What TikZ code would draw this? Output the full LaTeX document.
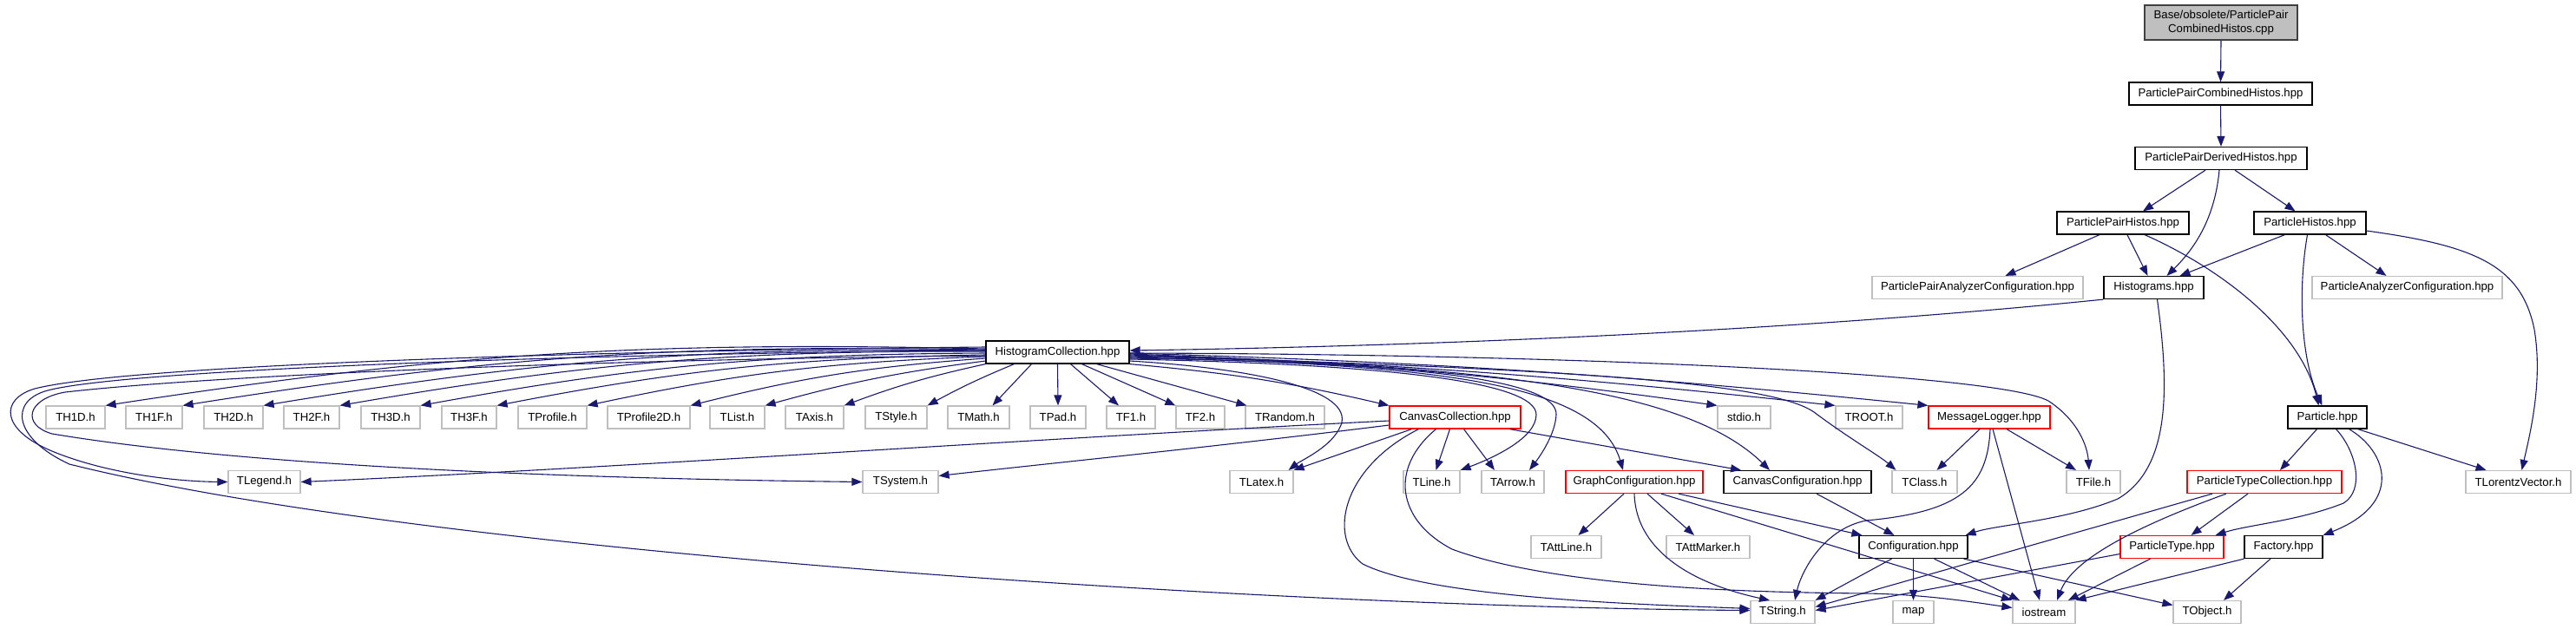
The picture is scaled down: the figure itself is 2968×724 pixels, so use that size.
\documentclass[tikz,border=0pt]{standalone}
\usepackage{fontspec}
\setmainfont{Liberation Sans}
\usetikzlibrary{arrows.meta}
\definecolor{edgeblue}{RGB}{25,25,112}
\definecolor{extgray}{RGB}{191,191,191}
\definecolor{basefill}{RGB}{191,191,191}
\definecolor{baseborder}{RGB}{64,64,64}
\definecolor{incred}{RGB}{255,0,0}
\newcommand{\nodefont}{\fontsize{13.2}{15.4}\selectfont}
\tikzset{
  nd/.style={rectangle, line width=1.2pt, minimum height=26pt, inner sep=0pt, font=\nodefont, text=black},
  ext/.style={nd, draw=extgray},
  doc/.style={nd, draw=black},
  incbox/.style={nd, draw=incred},
  basebox/.style={nd, draw=baseborder, fill=basefill, minimum height=40pt, align=center},
  dep/.style={draw=edgeblue, line width=1.1pt, -{Triangle[length=12pt,width=9pt]}}
}
\begin{document}
\begin{tikzpicture}[x=1pt,y=-1pt]
\useasboundingbox (0,0) rectangle (2968,724);
% rows 1-6
\node[basebox, minimum width=176pt] (base) at (2559,26) {Base/obsolete/ParticlePair\\CombinedHistos.cpp};
\node[doc, minimum width=211pt] (ppcomb) at (2558.5,108) {ParticlePairCombinedHistos.hpp};
\node[doc, minimum width=198pt] (ppder) at (2559,182.5) {ParticlePairDerivedHistos.hpp};
\node[doc, minimum width=152pt] (pphist) at (2446,257) {ParticlePairHistos.hpp};
\node[doc, minimum width=129pt] (phist) at (2661.5,257) {ParticleHistos.hpp};
\node[ext, minimum width=243pt] (ppac) at (2278.5,331.5) {ParticlePairAnalyzerConfiguration.hpp};
\node[doc, minimum width=115pt] (hist) at (2481.5,331.5) {Histograms.hpp};
\node[ext, minimum width=219pt] (pac) at (2773.5,331.5) {ParticleAnalyzerConfiguration.hpp};
\node[doc, minimum width=165pt] (hc) at (1218.5,406) {HistogramCollection.hpp};
% row 7
\node[ext, minimum width=68pt] (th1d) at (87,481) {TH1D.h};
\node[ext, minimum width=65pt] (th1f) at (177.5,481) {TH1F.h};
\node[ext, minimum width=68pt] (th2d) at (269,481) {TH2D.h};
\node[ext, minimum width=64pt] (th2f) at (359,481) {TH2F.h};
\node[ext, minimum width=68pt] (th3d) at (450,481) {TH3D.h};
\node[ext, minimum width=63pt] (th3f) at (540.5,481) {TH3F.h};
\node[ext, minimum width=79pt] (tprof) at (636.5,481) {TProfile.h};
\node[ext, minimum width=95pt] (tprof2) at (747.5,481) {TProfile2D.h};
\node[ext, minimum width=63pt] (tlist) at (849.5,481) {TList.h};
\node[ext, minimum width=67pt] (taxis) at (938.5,481) {TAxis.h};
\node[ext, minimum width=71pt] (tstyle) at (1032.5,481) {TStyle.h};
\node[ext, minimum width=71pt] (tmath) at (1127.5,481) {TMath.h};
\node[ext, minimum width=64pt] (tpad) at (1219,481) {TPad.h};
\node[ext, minimum width=56pt] (tf1) at (1303,481) {TF1.h};
\node[ext, minimum width=56pt] (tf2) at (1383,481) {TF2.h};
\node[ext, minimum width=91pt] (trandom) at (1480.5,481) {TRandom.h};
\node[incbox, minimum width=151pt] (cc) at (1676.5,481) {CanvasCollection.hpp};
\node[ext, minimum width=61pt] (stdio) at (2009.5,481) {stdio.h};
\node[ext, minimum width=77pt] (troot) at (2153.5,481) {TROOT.h};
\node[incbox, minimum width=140pt] (msg) at (2292,481) {MessageLogger.hpp};
\node[doc, minimum width=91pt] (particle) at (2681.5,481) {Particle.hpp};
% row 8
\node[ext, minimum width=83pt] (tlegend) at (304.5,555.5) {TLegend.h};
\node[ext, minimum width=87pt] (tsystem) at (1037.5,555.5) {TSystem.h};
\node[ext, minimum width=73pt] (tlatex) at (1453.5,555.5) {TLatex.h};
\node[ext, minimum width=65pt] (tline) at (1649.5,555.5) {TLine.h};
\node[ext, minimum width=72pt] (tarrow) at (1743,555.5) {TArrow.h};
\node[incbox, minimum width=158pt] (gc) at (1883,555.5) {GraphConfiguration.hpp};
\node[doc, minimum width=170pt] (cconf) at (2071,555.5) {CanvasConfiguration.hpp};
\node[ext, minimum width=75pt] (tclass) at (2217.5,555.5) {TClass.h};
\node[ext, minimum width=62pt] (tfile) at (2412,555.5) {TFile.h};
\node[incbox, minimum width=178pt] (ptc) at (2609,555.5) {ParticleTypeCollection.hpp};
\node[ext, minimum width=121pt] (tlv) at (2901.5,555.5) {TLorentzVector.h};
% row 9
\node[ext, minimum width=81pt] (tattline) at (1804.5,630.5) {TAttLine.h};
\node[ext, minimum width=96pt] (tattmarker) at (1968,630.5) {TAttMarker.h};
\node[doc, minimum width=125pt] (conf) at (2204.5,630.5) {Configuration.hpp};
\node[incbox, minimum width=119pt] (ptype) at (2502.5,630.5) {ParticleType.hpp};
\node[doc, minimum width=90pt] (factory) at (2631,630.5) {Factory.hpp};
% row 10
\node[ext, minimum width=74pt] (tstring) at (2054,705.5) {TString.h};
\node[ext, minimum width=47pt] (map) at (2204.5,705.5) {map};
\node[ext, minimum width=72pt] (iostream) at (2355,705.5) {iostream};
\node[ext, minimum width=78pt] (tobject) at (2543,705.5) {TObject.h};

% ---- edges: top part
\draw[dep] (base.south) -- (ppcomb.north);
\draw[dep] (ppcomb.south) -- (ppder.north);
\draw[dep] ([xshift=-18]ppder.south) -- ([xshift=23]pphist.north);
\draw[dep] ([xshift=16]ppder.south) -- ([xshift=-17]phist.north);
\draw[dep] ([xshift=-2]ppder.south) .. controls (2552,250) and (2530,285) .. ([xshift=15]hist.north);
\draw[dep] ([xshift=-27]pphist.south) -- ([xshift=32]ppac.north);
\draw[dep] ([xshift=5]pphist.south) -- ([xshift=-7]hist.north);
\draw[dep] ([xshift=25]pphist.south) .. controls (2560,310) and (2650,380) .. ([xshift=-10]particle.north);
\draw[dep] ([xshift=-29]phist.south) -- ([xshift=30]hist.north);
\draw[dep] ([xshift=18]phist.south) -- ([xshift=-24]pac.north);
\draw[dep] ([xshift=-3]phist.south) .. controls (2648,330) and (2650,410) .. ([xshift=-6]particle.north);
\draw[dep] ([yshift=-9]phist.east) .. controls (2850,283) and (2905,305) .. (2920,380) .. controls (2930,440) and (2915,500) .. ([xshift=4]tlv.north);
\draw[dep] (hist.south west) .. controls (2100,378) and (1700,398) .. ([yshift=2]hc.east);
\draw[dep] ([xshift=4]hist.south) .. controls (2500,450) and (2500,540) .. (2440,575) .. controls (2380,600) and (2300,605) .. ([xshift=-3]conf.north east);

% ---- HistogramCollection fan to the left
\draw[dep] ([yshift=4]hc.west) to[bend right=5] (th1d.north east);
\draw[dep] ([yshift=3]hc.west) to[bend right=5] (th1f.north east);
\draw[dep] ([yshift=2]hc.west) to[bend right=5] (th2d.north east);
\draw[dep] ([yshift=1]hc.west) to[bend right=5] (th2f.north east);
\draw[dep] ([yshift=-1]hc.west) to[bend right=5] (th3d.north east);
\draw[dep] ([yshift=-3]hc.west) to[bend right=5] (th3f.north east);
\draw[dep] ([yshift=-5]hc.west) to[bend right=5] (tprof.north east);
\draw[dep] ([yshift=-7]hc.west) to[bend right=5] (tprof2.north east);
\draw[dep] ([yshift=-10]hc.west) to[bend right=4] (tlist.north east);
\draw[dep] (hc.south west) to[bend right=4] (taxis.north east);
\draw[dep] ([xshift=-50]hc.south) to[bend right=3] (tstyle.north east);
\draw[dep] ([xshift=-30]hc.south) -- ([xshift=16]tmath.north);
\draw[dep] (hc.south) -- (tpad.north);
\draw[dep] ([xshift=15]hc.south) -- ([xshift=-14]tf1.north);
\draw[dep] ([xshift=28]hc.south) -- (tf2.north west);
\draw[dep] ([xshift=45]hc.south) -- ([xshift=2]trandom.north west);
% loops on the far left
\draw[dep] ([yshift=-4]hc.west) .. controls (700,414) and (250,432) .. (75,452) .. controls (30,460) and (25,490) .. (60,500) .. controls (300,540) and (700,552) .. (tsystem.west);
\draw[dep] ([yshift=6]hc.west) .. controls (700,404) and (150,420) .. (40,448) .. controls (0,460) and (0,495) .. (60,520) .. controls (120,545) and (200,555) .. (tlegend.west);
\draw[dep] ([yshift=2]hc.west) .. controls (700,407) and (150,425) .. (55,450) .. controls (10,462) and (15,505) .. (80,535) .. controls (500,640) and (1500,700) .. ([yshift=2]tstring.west);

% ---- HistogramCollection to the right
\draw[dep] (hc.south east) to[bend left=4] (cc.north west);
\draw[dep] ([yshift=-3]hc.east) to[bend left=3] (stdio.north west);
\draw[dep] ([yshift=-2]hc.east) to[bend left=2] (troot.north west);
\draw[dep] ([yshift=-1]hc.east) to[bend left=2] (msg.north west);
\draw[dep] ([yshift=-10]hc.east) .. controls (1450,425) and (1560,450) .. (1545,490) .. controls (1535,515) and (1500,530) .. ([xshift=-6]tlatex.north east);
\draw[dep] ([yshift=-8]hc.east) .. controls (1600,420) and (1770,440) .. (1770,478) .. controls (1770,505) and (1720,528) .. (tline.north east);
\draw[dep] ([yshift=-7]hc.east) .. controls (1650,418) and (1795,440) .. (1793,478) .. controls (1792,500) and (1775,525) .. ([xshift=19]tarrow.north);
\draw[dep] ([yshift=-6]hc.east) .. controls (1650,420) and (1840,440) .. ([xshift=-13]gc.north);
\draw[dep] ([yshift=-5]hc.east) .. controls (1750,420) and (1950,455) .. ([xshift=-32]cconf.north);
\draw[dep] ([yshift=-4]hc.east) .. controls (1800,425) and (2040,440) .. (2090,475) .. controls (2130,505) and (2165,525) .. ([xshift=5]tclass.north west);
\draw[dep] ([yshift=-1]hc.east) .. controls (1800,408) and (2300,430) .. (2360,462) .. controls (2395,485) and (2405,515) .. ([xshift=-5]tfile.north);

% ---- CanvasCollection
\draw[dep] ([yshift=-4]cc.west) .. controls (1200,505) and (700,540) .. (tlegend.east);
\draw[dep] ([yshift=-9]cc.west) .. controls (1400,515) and (1200,535) .. ([yshift=7]tsystem.east);
\draw[dep] ([xshift=-50]cc.south) -- (tlatex.north east);
\draw[dep] ([xshift=-6]cc.south) -- ([xshift=5]tline.north);
\draw[dep] ([xshift=10]cc.south) -- ([xshift=-21]tarrow.north);
\draw[dep] ([xshift=63]cc.south) -- ([xshift=-65]cconf.north);
\draw[dep] ([xshift=-42]cc.south) .. controls (1545,540) and (1530,620) .. (1570,650) .. controls (1650,690) and (1900,697) .. ([yshift=4]tstring.west);
\draw[dep] ([xshift=-22]cc.south) .. controls (1600,540) and (1610,600) .. (1673,633) .. controls (1800,680) and (2050,683) .. (2150,684) .. controls (2220,685) and (2280,695) .. ([yshift=5]iostream.west);

% ---- GraphConfiguration
\draw[dep] ([xshift=-12]gc.south) -- ([xshift=14]tattline.north);
\draw[dep] ([xshift=15]gc.south) -- ([xshift=-16]tattmarker.north);
\draw[dep] (gc.south) .. controls (1885,640) and (1960,675) .. ([xshift=-15]tstring.north);
\draw[dep] ([xshift=51]gc.south) -- ([xshift=4]conf.north west);
\draw[dep] ([xshift=31]gc.south) -- ([xshift=-37]iostream.north);

% ---- CanvasConfiguration, MessageLogger
\draw[dep] ([xshift=22]cconf.south) -- ([xshift=-22]conf.north);
\draw[dep] ([xshift=-11]msg.south) -- ([xshift=14]tclass.north);
\draw[dep] ([xshift=20]msg.south) -- ([xshift=-20]tfile.north);
\draw[dep] ([xshift=1]msg.south) .. controls (2290,560) and (2260,590) .. (2150,600) .. controls (2100,610) and (2075,660) .. ([xshift=14]tstring.north);
\draw[dep] ([xshift=4]msg.south) -- ([xshift=-5]iostream.north);

% ---- Configuration
\draw[dep] ([xshift=-25]conf.south) -- (tstring.north east);
\draw[dep] (conf.south) -- (map.north);
\draw[dep] ([xshift=24]conf.south) -- ([xshift=-28]iostream.north);
\draw[dep] ([xshift=58]conf.south) -- ([yshift=8]tobject.west);

% ---- Particle side
\draw[dep] ([xshift=-12]particle.south) -- ([xshift=18]ptc.north);
\draw[dep] ([xshift=10]particle.south) .. controls (2715,520) and (2725,565) .. (2700,580) .. controls (2650,600) and (2590,605) .. ([xshift=50]ptype.north);
\draw[dep] ([xshift=25]particle.south) .. controls (2750,520) and (2770,580) .. (factory.north east);
\draw[dep] ([xshift=35]particle.south) -- ([xshift=-37]tlv.north);
\draw[dep] ([xshift=-19]ptc.south) -- ([xshift=22]ptype.north);
\draw[dep] ([xshift=-60]ptc.south) -- ([yshift=6]tstring.east);
\draw[dep] ([xshift=-44]ptc.south) .. controls (2480,600) and (2390,640) .. ([xshift=15]iostream.north);
\draw[dep] ([yshift=-8]ptype.west) -- ([yshift=2]tstring.east);
\draw[dep] ([xshift=-25]ptype.south) -- ([xshift=28]iostream.north);
\draw[dep] (factory.south west) -- (iostream.north east);
\draw[dep] ([xshift=-15]factory.south) -- ([xshift=19]tobject.north);
\end{tikzpicture}
\end{document}
